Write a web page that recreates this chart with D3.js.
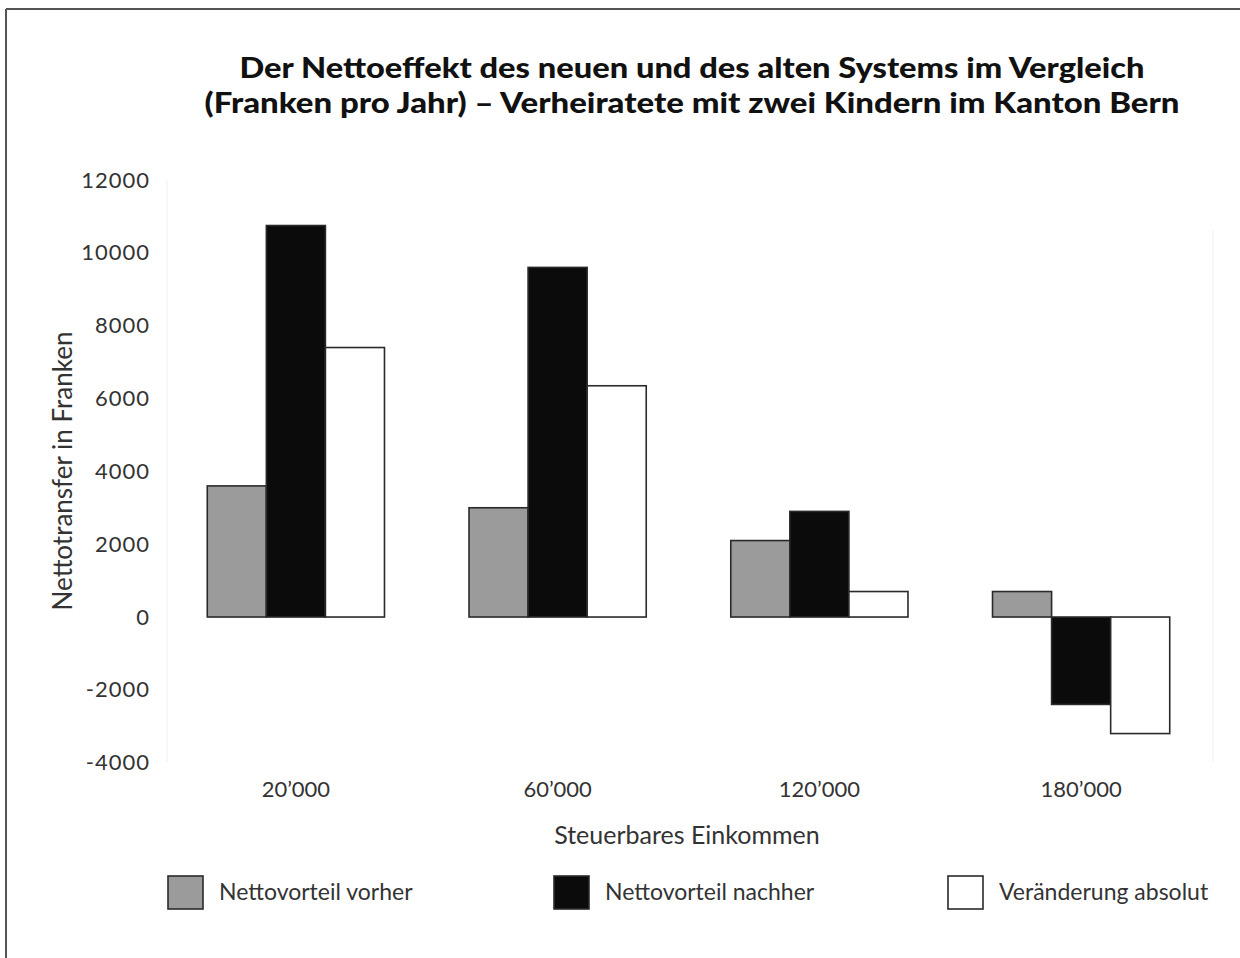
<!DOCTYPE html>
<html>
<head>
<meta charset="utf-8">
<script src="https://cdn.jsdelivr.net/npm/d3@7"></script>
<style>
  body { margin: 0; background: #fff; }
  svg { display: block; font-family: Lato, 'Open Sans', sans-serif; }
</style>
</head>
<body>
<div id="chart"></div>
<script>
// data
const categories = ['20’000', '60’000', '120’000', '180’000']
const seriesNames = ['Nettovorteil vorher', 'Nettovorteil nachher', 'Veränderung absolut']
const vorher = [3600, 3000, 2100, 700]
const nachher = [10750, 9600, 2900, -2400]
const veraenderung = [7400, 6350, 700, -3200]
const yTicks = [12000, 10000, 8000, 6000, 4000, 2000, 0, -2000, -4000]
const titleLines = [
  'Der Nettoeffekt des neuen und des alten Systems im Vergleich',
  '(Franken pro Jahr) – Verheiratete mit zwei Kindern im Kanton Bern',
]
const titleWidths = [905, 975]

const width = 1240
const height = 958
const fills = ['#9b9b9b', '#0b0b0b', '#ffffff']

const svg = d3
  .select('#chart')
  .append('svg')
  .attr('width', width)
  .attr('height', height)

// frame (top + left edge only, like the scan)
svg.append('line').attr('x1', 6).attr('y1', 9).attr('x2', width).attr('y2', 9)
  .style('stroke', '#555').style('stroke-width', 2)
svg.append('line').attr('x1', 6).attr('y1', 9).attr('x2', 6).attr('y2', height)
  .style('stroke', '#555').style('stroke-width', 2)

// title
svg.append('g')
  .selectAll('text')
  .data(titleLines)
  .join('text')
  .attr('x', 692)
  .attr('y', (d, i) => 78 + i * 35)
  .attr('text-anchor', 'middle')
  .attr('textLength', (d, i) => titleWidths[i])
  .attr('lengthAdjust', 'spacingAndGlyphs')
  .style('font-size', '29px')
  .style('font-weight', 900)
  .style('fill', '#111')
  .text((d) => d)

// scales
const x0 = d3.scaleBand().domain(categories).range([165, 1212]).paddingInner(0.323).paddingOuter(0.1615)
const x1 = d3.scaleBand().domain(seriesNames).range([0, x0.bandwidth()])
const y = d3.scaleLinear().domain([-4000, 12000]).range([762.7, 180])

// faint frame lines of the plot area
svg.append('line').attr('x1', 167).attr('x2', 167).attr('y1', 180).attr('y2', 762)
  .style('stroke', '#eee')
svg.append('line').attr('x1', 1213).attr('x2', 1213).attr('y1', 230).attr('y2', 762)
  .style('stroke', '#f0f0f0')

// y axis labels
const yAxis = svg.append('g')
  .attr('transform', 'translate(150,0)')
  .call(d3.axisLeft(y).tickValues(yTicks).tickSize(0).tickPadding(0).tickFormat(d3.format('d')))
yAxis.select('.domain').remove()
yAxis.selectAll('text')
  .style('font-family', 'Lato, sans-serif')
  .style('font-size', '22px')
  .style('letter-spacing', '1px')
  .style('fill', '#333')
  .text((d) => (d < 0 ? '-' + Math.abs(d) : d))

// x axis labels
const xAxis = svg.append('g')
  .attr('transform', 'translate(0,781)')
  .call(d3.axisBottom(x0).tickSize(0).tickPadding(0))
xAxis.select('.domain').remove()
xAxis.selectAll('text')
  .style('font-family', 'Lato, sans-serif')
  .style('font-size', '22px')
  .style('fill', '#333')

// axis titles
svg.append('text')
  .attr('x', 687).attr('y', 844)
  .attr('text-anchor', 'middle')
  .style('font-size', '25px').style('fill', '#333')
  .text('Steuerbares Einkommen')
svg.append('text')
  .attr('transform', 'translate(72,471) rotate(-90)')
  .attr('text-anchor', 'middle')
  .style('font-size', '26px').style('fill', '#333')
  .text('Nettotransfer in Franken')

// bars
const rows = categories.map((c, i) => ({
  cat: c,
  vals: [vorher[i], nachher[i], veraenderung[i]],
}))
const groups = svg.append('g')
  .selectAll('g')
  .data(rows)
  .join('g')
  .attr('transform', (d) => `translate(${x0(d.cat)},0)`)
groups.selectAll('rect')
  .data((d) => d.vals.map((v, k) => ({ v, k })))
  .join('rect')
  .attr('x', (d) => x1(seriesNames[d.k]))
  .attr('width', x1.bandwidth())
  .attr('y', (d) => y(Math.max(0, d.v)))
  .attr('height', (d) => Math.abs(y(d.v) - y(0)))
  .attr('fill', (d) => fills[d.k])
  .attr('stroke', '#2a2a2a')
  .attr('stroke-width', 1.6)

// legend
const legendX = [168, 554, 948]
const legend = svg.append('g')
  .selectAll('g')
  .data(seriesNames)
  .join('g')
  .attr('transform', (d, i) => `translate(${legendX[i]},876)`)
legend.append('rect')
  .attr('width', 35).attr('height', 33)
  .attr('fill', (d, i) => fills[i])
  .attr('stroke', '#2a2a2a').attr('stroke-width', 1.6)
legend.append('text')
  .attr('x', 51).attr('y', 24)
  .style('font-size', '23px').style('fill', '#333')
  .text((d) => d)
</script>
</body>
</html>
